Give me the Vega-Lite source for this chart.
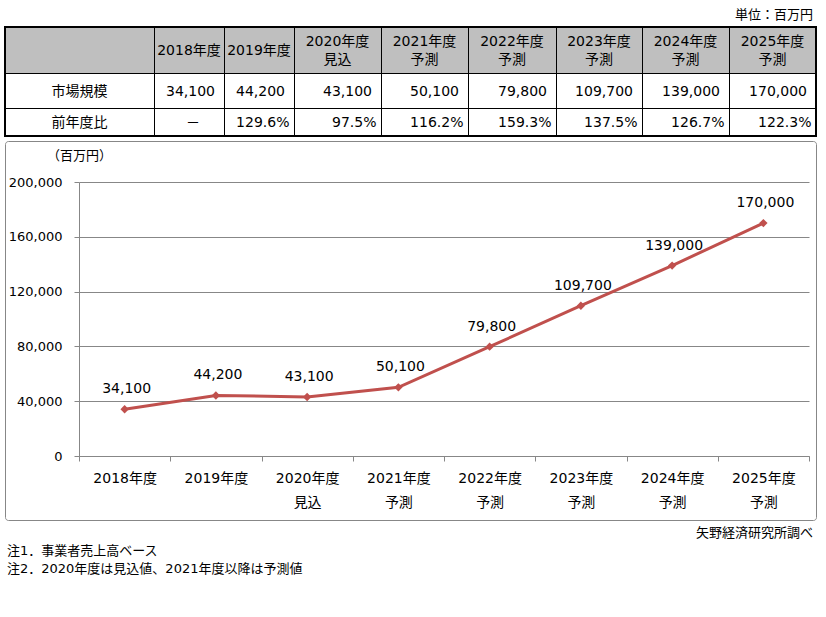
{
  "$schema": "https://vega.github.io/schema/vega-lite/v6.json",
  "width": 730,
  "height": 274,
  "autosize": {"type": "none"},
  "padding": {"left": 79, "top": 182, "right": 17, "bottom": 161},
  "background": "#ffffff",
  "config": {
    "font": "DejaVu Sans, Noto Sans CJK JP",
    "view": {"stroke": null},
    "text": {"font": "DejaVu Sans, Noto Sans CJK JP", "color": "#000000"}
  },
  "datasets": {
    "d": [
      {"i": 1, "cat": "2018年度", "value": 34100, "pct": "－"},
      {"i": 2, "cat": "2019年度", "value": 44200, "pct": "129.6%"},
      {"i": 3, "cat": "2020年度\n見込", "value": 43100, "pct": "97.5%"},
      {"i": 4, "cat": "2021年度\n予測", "value": 50100, "pct": "116.2%"},
      {"i": 5, "cat": "2022年度\n予測", "value": 79800, "pct": "159.3%"},
      {"i": 6, "cat": "2023年度\n予測", "value": 109700, "pct": "137.5%"},
      {"i": 7, "cat": "2024年度\n予測", "value": 139000, "pct": "126.7%"},
      {"i": 8, "cat": "2025年度\n予測", "value": 170000, "pct": "122.3%"}
    ]
  },
  "layer": [
    {
      "data": {"values": [{}]},
      "mark": {"type": "rect", "fill": "transparent", "stroke": "#878787", "strokeWidth": 1, "cornerRadius": 3},
      "encoding": {
        "x": {"datum": 0, "type": "quantitative", "scale": {"domain": [0, 1], "range": [-73.5, 737.5], "zero": false, "nice": false}, "axis": null},
        "x2": {"datum": 1},
        "y": {"datum": 0, "type": "quantitative", "scale": {"domain": [0, 1], "range": [-40.5, 338.5], "zero": false, "nice": false}, "axis": null},
        "y2": {"datum": 1}
      }
    },
    {
      "data": {"name": "d"},
      "encoding": {
        "x": {
          "field": "cat", "type": "nominal", "sort": null, "bandPosition": 0.5,
          "scale": {"type": "band", "paddingInner": 0, "paddingOuter": 0},
          "axis": {
            "title": null, "labelExpr": "datum.value ? split(datum.value, '\\n') : ''", "labelAngle": 0,
            "labelFontSize": 14, "labelColor": "#000000", "labelLineHeight": 24, "labelPadding": 10,
            "tickBand": "extent", "tickSize": 5, "tickColor": "#878787", "domainColor": "#878787",
            "labelOverlap": false, "grid": false
          }
        },
        "y": {
          "field": "value", "type": "quantitative",
          "scale": {"domain": [0, 200000], "nice": false},
          "axis": {
            "title": "（百万円）", "titleAngle": 0, "titleX": 0, "titleY": -27, "titleAlign": "center",
            "titleBaseline": "middle", "titleFontSize": 13, "titleFontWeight": "normal", "titleColor": "#000000",
            "values": [0, 40000, 80000, 120000, 160000, 200000], "labelExpr": "format(datum.value, ',')",
            "labelFontSize": 13, "labelColor": "#000000", "labelPadding": 12,
            "tickSize": 5, "tickColor": "#878787", "domainColor": "#878787", "gridColor": "#878787", "grid": true
          }
        }
      },
      "layer": [
        {"mark": {"type": "line", "color": "#C0504D", "strokeWidth": 3, "point": {"shape": "diamond", "size": 70, "filled": true, "color": "#C0504D"}}},
        {"mark": {"type": "text", "dy": -20, "dx": 2, "fontSize": 14, "baseline": "middle"}, "encoding": {"text": {"field": "value", "format": ","}}}
      ]
    },
    {
      "data": {"values": [{}]},
      "mark": {"type": "rect", "fill": "#BFBFBF"},
      "encoding": {
        "x": {"datum": 0, "type": "quantitative", "scale": {"domain": [0, 1], "range": [-74, 737], "zero": false, "nice": false}, "axis": null},
        "x2": {"datum": 1},
        "y": {"datum": 0, "type": "quantitative", "scale": {"domain": [0, 1], "range": [-155, -108.5], "zero": false, "nice": false}, "axis": null},
        "y2": {"datum": 1}
      }
    },
    {
      "data": {"name": "d"},
      "mark": {"type": "rule", "color": "#000000", "strokeWidth": 1},
      "encoding": {
        "x": {"field": "i", "type": "quantitative", "scale": {"domain": [1, 2, 3, 4, 5, 6, 7, 8], "range": [75.5, 145.5, 215.5, 302.5, 389.5, 477.5, 563.5, 650.5], "zero": false, "nice": false}, "axis": null},
        "y": {"datum": 0, "type": "quantitative", "scale": {"domain": [0, 1], "range": [-155, -46], "zero": false, "nice": false}, "axis": null},
        "y2": {"datum": 1}
      }
    },
    {
      "data": {"values": [{"r": 1}, {"r": 2}]},
      "mark": {"type": "rule", "color": "#000000", "strokeWidth": 1},
      "encoding": {
        "y": {"field": "r", "type": "quantitative", "scale": {"domain": [0, 1, 2, 3], "range": [-155, -108.5, -73.5, -46], "zero": false, "nice": false}, "axis": null},
        "x": {"datum": 0, "type": "quantitative", "scale": {"domain": [0, 1], "range": [-74, 737], "zero": false, "nice": false}, "axis": null},
        "x2": {"datum": 1}
      }
    },
    {
      "data": {"values": [{}]},
      "mark": {"type": "rect", "fill": "transparent", "stroke": "#000000", "strokeWidth": 2},
      "encoding": {
        "x": {"datum": 0, "type": "quantitative", "scale": {"domain": [0, 1], "range": [-74, 737], "zero": false, "nice": false}, "axis": null},
        "x2": {"datum": 1},
        "y": {"datum": 0, "type": "quantitative", "scale": {"domain": [0, 1], "range": [-155, -46], "zero": false, "nice": false}, "axis": null},
        "y2": {"datum": 1}
      }
    },
    {
      "data": {"name": "d"},
      "transform": [{"filter": "datum.i <= 2"}],
      "mark": {"type": "text", "fontSize": 14, "baseline": "middle", "align": "center"},
      "encoding": {
        "x": {"field": "i", "type": "quantitative", "scale": {"domain": [1, 2], "range": [110, 180], "zero": false, "nice": false}, "axis": null},
        "y": {"datum": 0, "type": "quantitative", "scale": {"domain": [0, 1, 2], "range": [-131, -90.5, -59.5], "zero": false, "nice": false}, "axis": null},
        "text": {"field": "cat"}
      }
    },
    {
      "data": {"name": "d"},
      "transform": [{"filter": "datum.i > 2"}],
      "mark": {"type": "text", "fontSize": 14, "lineBreak": "\n", "lineHeight": 18, "baseline": "middle", "align": "center"},
      "encoding": {
        "x": {"field": "i", "type": "quantitative", "scale": {"domain": [3, 4, 5, 6, 7, 8], "range": [258.5, 345.5, 433, 520, 606.5, 693.5], "zero": false, "nice": false}, "axis": null},
        "y": {"datum": 0, "type": "quantitative", "scale": {"domain": [0, 1, 2], "range": [-140, -90.5, -59.5], "zero": false, "nice": false}, "axis": null},
        "text": {"field": "cat"}
      }
    },
    {
      "data": {"values": [{"t": "市場規模", "r": 1}, {"t": "前年度比", "r": 2}]},
      "mark": {"type": "text", "fontSize": 14, "baseline": "middle", "align": "center"},
      "encoding": {
        "x": {"datum": 0, "type": "quantitative", "scale": {"domain": [0, 1], "range": [0.5, 1], "zero": false, "nice": false}, "axis": null},
        "y": {"field": "r", "type": "quantitative", "scale": {"domain": [0, 1, 2], "range": [-131, -90.5, -59.5], "zero": false, "nice": false}, "axis": null},
        "text": {"field": "t"}
      }
    },
    {
      "data": {"name": "d"},
      "mark": {"type": "text", "fontSize": 14, "baseline": "middle", "align": "right", "dx": -9},
      "encoding": {
        "x": {"field": "i", "type": "quantitative", "scale": {"domain": [1, 2, 3, 4, 5, 6, 7, 8], "range": [145, 215, 302, 389, 477, 563, 650, 737], "zero": false, "nice": false}, "axis": null},
        "y": {"datum": 1, "type": "quantitative", "scale": {"domain": [0, 1, 2], "range": [-131, -90.5, -59.5], "zero": false, "nice": false}, "axis": null},
        "text": {"field": "value", "format": ","}
      }
    },
    {
      "data": {"name": "d"},
      "transform": [{"filter": "datum.i > 1"}],
      "mark": {"type": "text", "fontSize": 14, "baseline": "middle", "align": "right", "dx": -4.5},
      "encoding": {
        "x": {"field": "i", "type": "quantitative", "scale": {"domain": [1, 2, 3, 4, 5, 6, 7, 8], "range": [145, 215, 302, 389, 477, 563, 650, 737], "zero": false, "nice": false}, "axis": null},
        "y": {"datum": 2, "type": "quantitative", "scale": {"domain": [0, 1, 2], "range": [-131, -90.5, -59.5], "zero": false, "nice": false}, "axis": null},
        "text": {"field": "pct"}
      }
    },
    {
      "data": {"name": "d"},
      "transform": [{"filter": "datum.i == 1"}],
      "mark": {"type": "text", "fontSize": 14, "baseline": "middle", "align": "center"},
      "encoding": {
        "x": {"field": "i", "type": "quantitative", "scale": {"domain": [1, 2], "range": [114, 180], "zero": false, "nice": false}, "axis": null},
        "y": {"datum": 2, "type": "quantitative", "scale": {"domain": [0, 1, 2], "range": [-131, -90.5, -59.5], "zero": false, "nice": false}, "axis": null},
        "text": {"field": "pct"}
      }
    },
    {
      "data": {"values": [{"t": "単位：百万円", "k": 0}, {"t": "矢野経済研究所調べ", "k": 1}]},
      "mark": {"type": "text", "fontSize": 13, "baseline": "middle", "align": "right"},
      "encoding": {
        "x": {"datum": 1, "type": "quantitative", "scale": {"domain": [0, 1], "range": [0, 734], "zero": false, "nice": false}, "axis": null},
        "y": {"field": "k", "type": "quantitative", "scale": {"domain": [0, 1], "range": [-167, 351], "zero": false, "nice": false}, "axis": null},
        "text": {"field": "t"}
      }
    },
    {
      "data": {"values": [{"t": "注1．事業者売上高ベース", "k": 0}, {"t": "注2．2020年度は見込値、2021年度以降は予測値", "k": 1}]},
      "mark": {"type": "text", "fontSize": 13, "baseline": "middle", "align": "left"},
      "encoding": {
        "x": {"datum": 0, "type": "quantitative", "scale": {"domain": [0, 1], "range": [-72, 0], "zero": false, "nice": false}, "axis": null},
        "y": {"field": "k", "type": "quantitative", "scale": {"domain": [0, 1], "range": [369, 387], "zero": false, "nice": false}, "axis": null},
        "text": {"field": "t"}
      }
    }
  ],
  "resolve": {"scale": {"x": "independent", "y": "independent"}}
}
